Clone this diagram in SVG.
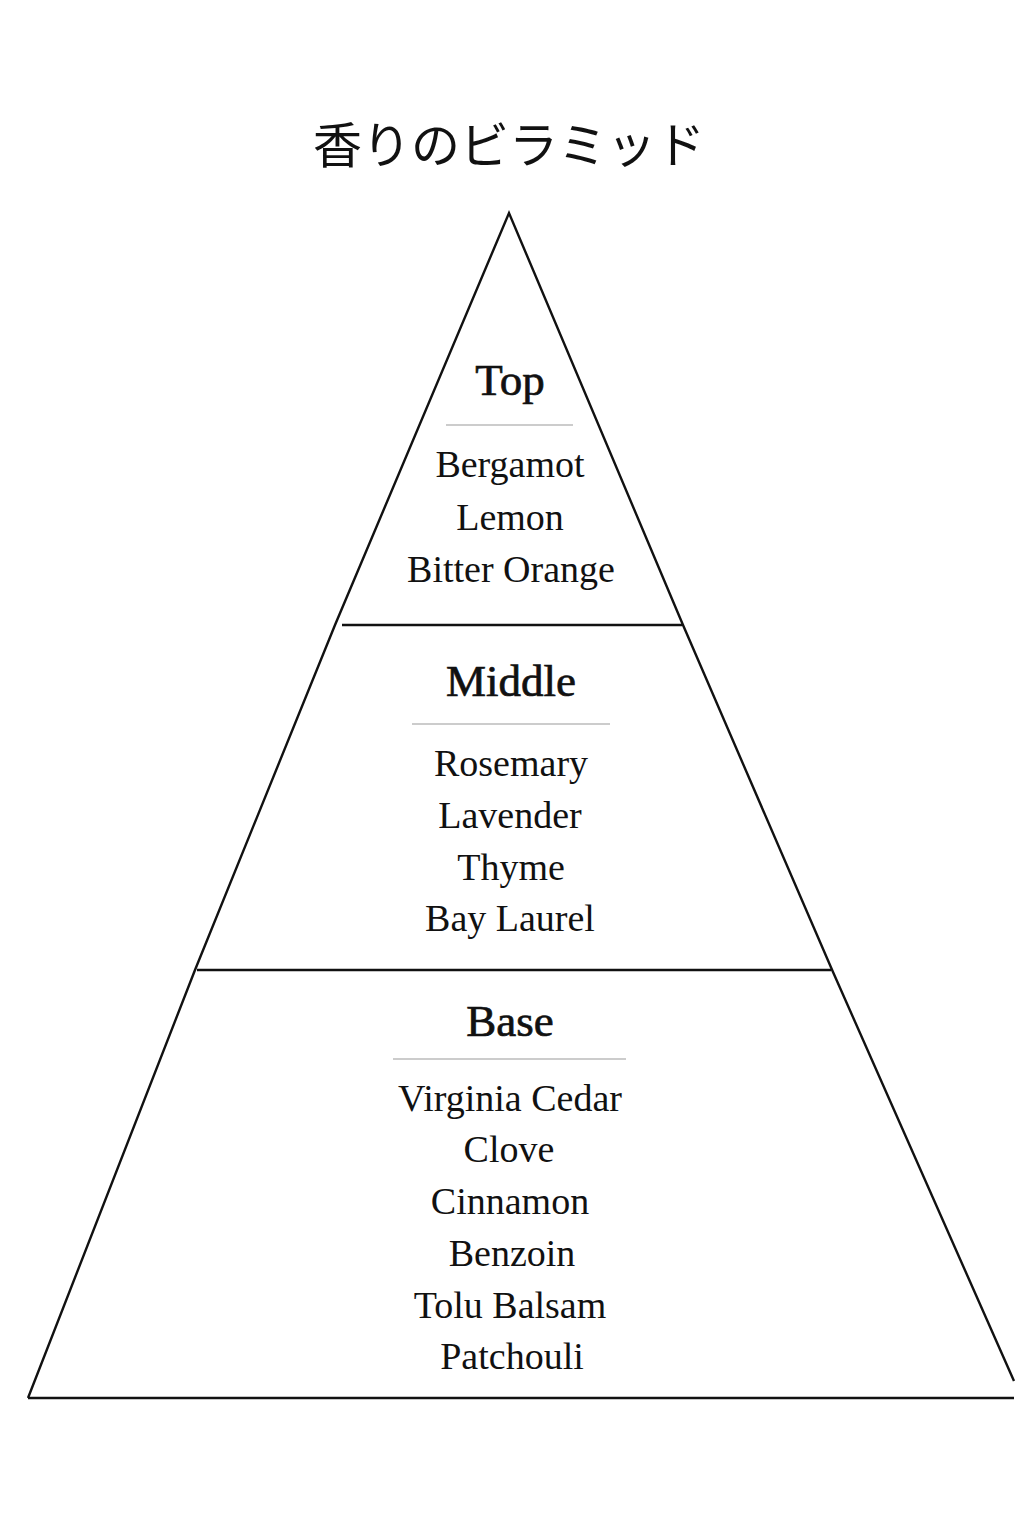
<svg xmlns="http://www.w3.org/2000/svg" width="1024" height="1536" viewBox="0 0 1024 1536">
<style>
.title{font-family:"Liberation Serif","Noto Sans CJK JP",serif;font-size:49px;fill:#111;text-anchor:middle}
.head{font-family:"Liberation Serif","Noto Serif",serif;font-size:45px;fill:#111;stroke:#111;stroke-width:0.7;text-anchor:middle}
.item{font-family:"Liberation Serif","Noto Serif",serif;font-size:38px;fill:#111;text-anchor:middle}
.edge{fill:none;stroke:#111;stroke-width:2.4;stroke-linejoin:miter}
.div{stroke:#111;stroke-width:2.4}
.rule{stroke:#9a9a9a;stroke-width:1.2}
</style>
<rect width="1024" height="1536" fill="#fff"/>
<text class="title" x="509" y="163">香りのビラミッド</text>
<g id="connectors">
<polyline class="edge" points="28,1398 195,970 335,625 509,213 683,625 833,972 1014,1381"/>
<line class="div" x1="28" y1="1398" x2="1014" y2="1398"/>
<line class="div" x1="342" y1="625" x2="682" y2="625"/>
<line class="div" x1="197" y1="970" x2="831" y2="970"/>
</g>
<g id="top">
<text class="head" x="510" y="395">Top</text>
<line class="rule" x1="446" y1="425" x2="573" y2="425"/>
<text class="item" x="510" y="477">Bergamot</text>
<text class="item" x="510" y="530">Lemon</text>
<text class="item" x="511" y="582">Bitter Orange</text>
</g>
<g id="middle">
<text class="head" x="511" y="696">Middle</text>
<line class="rule" x1="412" y1="724" x2="610" y2="724"/>
<text class="item" x="511" y="776">Rosemary</text>
<text class="item" x="510" y="828">Lavender</text>
<text class="item" x="511" y="880">Thyme</text>
<text class="item" x="510" y="931">Bay Laurel</text>
</g>
<g id="base">
<text class="head" x="510" y="1036">Base</text>
<line class="rule" x1="393" y1="1059" x2="626" y2="1059"/>
<text class="item" x="510" y="1111">Virginia Cedar</text>
<text class="item" x="509" y="1162">Clove</text>
<text class="item" x="510" y="1214">Cinnamon</text>
<text class="item" x="512" y="1266">Benzoin</text>
<text class="item" x="510" y="1318">Tolu Balsam</text>
<text class="item" x="512" y="1369">Patchouli</text>
</g>
</svg>
